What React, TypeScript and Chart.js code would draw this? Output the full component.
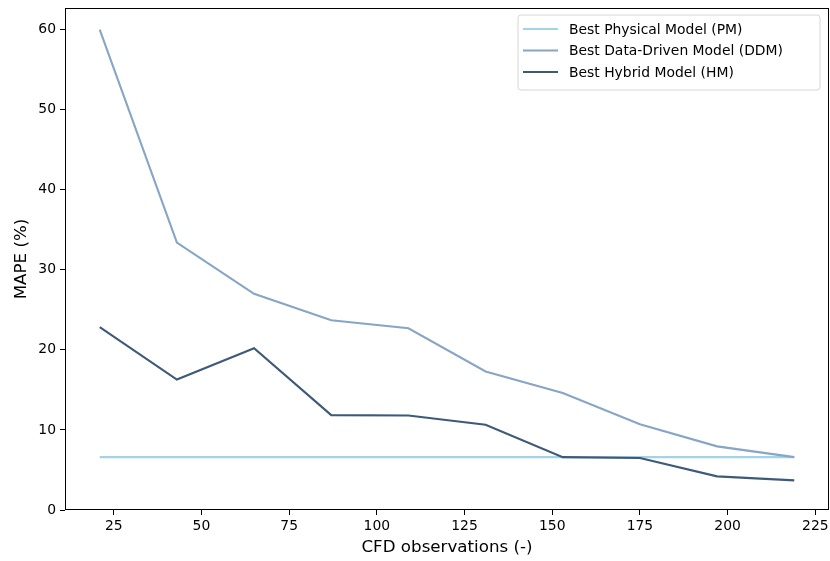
import React, { useEffect, useRef } from "react";
import { Chart, registerables } from "chart.js";

Chart.register(...registerables);

const observations = [21, 43, 65, 87, 109, 131, 153, 175, 197, 219];
const pmValues = [6.6, 6.6, 6.6, 6.6, 6.6, 6.6, 6.6, 6.6, 6.6, 6.6];
const ddmValues = [60.0, 33.4, 27.0, 23.7, 22.7, 17.3, 14.6, 10.7, 7.95, 6.6];
const hmValues = [22.85, 16.3, 20.2, 11.85, 11.8, 10.65, 6.6, 6.5, 4.2, 3.7];
const xTicks = [25, 50, 75, 100, 125, 150, 175, 200, 225];
const yTicks = [0, 10, 20, 30, 40, 50, 60];
const seriesLabels = ["Best Physical Model (PM)", "Best Data-Driven Model (DDM)", "Best Hybrid Model (HM)"];
const seriesColors = ["#a3d3e6", "#86a5c7", "#3d5a78"];

const FONT = "'DejaVu Sans', sans-serif";

const framePlugin = {
  id: "frameAndLegend",
  afterDraw(chart: any) {
    const { ctx, chartArea } = chart;
    ctx.save();
    ctx.strokeStyle = "#000";
    ctx.lineWidth = 1;
    ctx.strokeRect(chartArea.left + 0.5, chartArea.top + 0.5, chartArea.right - chartArea.left - 1, chartArea.bottom - chartArea.top - 1);

    // legend
    const bx = 518, by = 15, bw = 302, bh = 75, r = 3;
    ctx.beginPath();
    ctx.moveTo(bx + r, by);
    ctx.lineTo(bx + bw - r, by);
    ctx.arcTo(bx + bw, by, bx + bw, by + r, r);
    ctx.lineTo(bx + bw, by + bh - r);
    ctx.arcTo(bx + bw, by + bh, bx + bw - r, by + bh, r);
    ctx.lineTo(bx + r, by + bh);
    ctx.arcTo(bx, by + bh, bx, by + bh - r, r);
    ctx.lineTo(bx, by + r);
    ctx.arcTo(bx, by, bx + r, by, r);
    ctx.closePath();
    ctx.fillStyle = "rgba(255,255,255,0.8)";
    ctx.fill();
    ctx.strokeStyle = "#d6d6d6";
    ctx.lineWidth = 1;
    ctx.stroke();

    ctx.font = `13.9px ${FONT}`;
    ctx.textBaseline = "middle";
    ctx.textAlign = "left";
    seriesLabels.forEach((lab, i) => {
      const y = 29 + i * 21.5;
      ctx.strokeStyle = seriesColors[i];
      ctx.lineWidth = 2.1;
      ctx.beginPath();
      ctx.moveTo(523, y);
      ctx.lineTo(558, y);
      ctx.stroke();
      ctx.fillStyle = "#000";
      ctx.fillText(lab, 569, y + 1);
    });
    ctx.restore();
  },
};

export default function App() {
  const ref = useRef<HTMLCanvasElement>(null);
  useEffect(() => {
    if (!ref.current) return;
    const mk = (vals: number[]) => observations.map((x, i) => ({ x, y: vals[i] }));
    const chart = new Chart(ref.current, {
      type: "line",
      data: {
        datasets: [
          { label: seriesLabels[0], data: mk(pmValues), borderColor: seriesColors[0], borderWidth: 2.1, pointRadius: 0, order: 3 },
          { label: seriesLabels[1], data: mk(ddmValues), borderColor: seriesColors[1], borderWidth: 2.1, pointRadius: 0, order: 2 },
          { label: seriesLabels[2], data: mk(hmValues), borderColor: seriesColors[2], borderWidth: 2.1, pointRadius: 0, order: 1 },
        ],
      },
      options: {
        animation: false,
        responsive: false,
        layout: { padding: { left: 0, top: 8, right: 1, bottom: 0 } },
        plugins: { legend: { display: false }, tooltip: { enabled: false } },
        scales: {
          x: {
            type: "linear",
            min: 11.1,
            max: 228.9,
            afterBuildTicks: (s: any) => { s.ticks = xTicks.map((v) => ({ value: v })); },
            afterFit: (s: any) => { s.height = 51; s.paddingLeft = 0; s.paddingRight = 0; },
            border: { display: false },
            grid: { drawOnChartArea: false, drawTicks: true, tickLength: 5, tickColor: "#000", tickWidth: 1 },
            ticks: { color: "#000", font: { family: FONT, size: 13.9 }, padding: 3, maxRotation: 0, autoSkip: false },
            title: { display: true, text: "CFD observations (-)", color: "#000", font: { family: FONT, size: 16.7 }, padding: { top: 3, bottom: 3 } },
          },
          y: {
            type: "linear",
            min: 0,
            max: 62.7,
            afterBuildTicks: (s: any) => { s.ticks = yTicks.map((v) => ({ value: v })); },
            afterFit: (s: any) => { s.width = 65; s.paddingTop = 0; s.paddingBottom = 0; },
            border: { display: false },
            grid: { drawOnChartArea: false, drawTicks: true, tickLength: 5, tickColor: "#000", tickWidth: 1 },
            ticks: { color: "#000", font: { family: FONT, size: 13.9 }, padding: 4, autoSkip: false },
            title: { display: true, text: "MAPE (%)", color: "#000", font: { family: FONT, size: 16.7 }, padding: { top: 12, bottom: 0 } },
          },
        },
      },
      plugins: [framePlugin],
    });
    return () => chart.destroy();
  }, []);
  return (
    <div style={{ position: "absolute", left: 0, top: 0, width: 830, height: 561, background: "#fff" }}>
      <canvas ref={ref} width={830} height={561} />
    </div>
  );
}
